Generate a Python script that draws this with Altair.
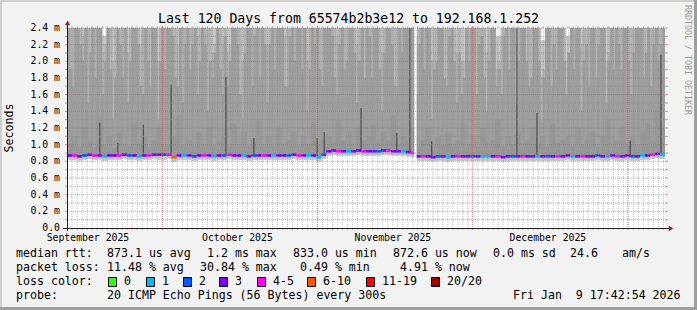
import altair as alt
import pandas as pd
import numpy as np

MONO = "DejaVu Sans Mono"

# ---------------- texts ----------------
title_text = "Last 120 Days from 65574b2b3e12 to 192.168.1.252"
y_axis_title = "Seconds"
watermark = "RRDTOOL / TOBI OETIKER"

y_tick_values = [0.0, 0.2, 0.4, 0.6, 0.8, 1.0, 1.2, 1.4, 1.6, 1.8, 2.0, 2.2, 2.4]
y_tick_labels = ["0.0", "0.2 m", "0.4 m", "0.6 m", "0.8 m", "1.0 m", "1.2 m",
                 "1.4 m", "1.6 m", "1.8 m", "2.0 m", "2.2 m", "2.4 m"]
y_minor_values = [0.1, 0.3, 0.5, 0.7, 0.9, 1.1, 1.3, 1.5, 1.7, 1.9, 2.1, 2.3]

month_labels = ["September 2025", "October 2025", "November 2025", "December 2025"]
month_label_days = [4.2, 34.2, 65.4, 96.5]
month_grid_days = [19.12, 50.31, 81.33, 112.51]

# ---------------- data: daily bins ----------------
day_bins = list(range(120))

median_rtt = [
    0.87, 0.87, 0.86, 0.87, 0.88, 0.87, 0.87, 0.86, 0.87, 0.87,
    0.87, 0.88, 0.87, 0.87, 0.86, 0.87, 0.87, 0.88, 0.88, 0.88,
    0.88, 0.85, 0.87, 0.87, 0.87, 0.86, 0.87, 0.87, 0.87, 0.86,
    0.87, 0.87, 0.88, 0.87, 0.87, 0.87, 0.86, 0.87, 0.87, 0.87,
    0.87, 0.87, 0.87, 0.87, 0.87, 0.88, 0.87, 0.87, 0.87, 0.87,
    0.85, 0.88, 0.92, 0.93, 0.92, 0.92, 0.92, 0.92, 0.93, 0.92,
    0.92, 0.92, 0.92, 0.93, 0.93, 0.92, 0.92, 0.92, 0.91, 0.90,
    0.86, 0.86, 0.86, 0.85, 0.86, 0.86, 0.85, 0.86, 0.86, 0.86,
    0.86, 0.86, 0.86, 0.86, 0.86, 0.86, 0.86, 0.85, 0.86, 0.86,
    0.86, 0.86, 0.86, 0.86, 0.86, 0.86, 0.86, 0.86, 0.86, 0.86,
    0.87, 0.86, 0.86, 0.86, 0.86, 0.86, 0.87, 0.86, 0.86, 0.87,
    0.86, 0.86, 0.87, 0.86, 0.86, 0.87, 0.87, 0.88, 0.89, 0.88,
]

min_rtt = [
    0.82, 0.82, 0.81, 0.82, 0.83, 0.82, 0.82, 0.81, 0.82, 0.82,
    0.82, 0.83, 0.82, 0.82, 0.81, 0.82, 0.82, 0.83, 0.82, 0.82,
    0.83, 0.80, 0.82, 0.82, 0.82, 0.81, 0.82, 0.82, 0.82, 0.81,
    0.82, 0.82, 0.83, 0.82, 0.82, 0.82, 0.81, 0.82, 0.82, 0.82,
    0.82, 0.82, 0.82, 0.82, 0.82, 0.83, 0.82, 0.82, 0.82, 0.82,
    0.80, 0.83, 0.87, 0.88, 0.87, 0.87, 0.87, 0.87, 0.88, 0.87,
    0.87, 0.87, 0.87, 0.88, 0.88, 0.87, 0.87, 0.87, 0.86, 0.85,
    0.81, 0.81, 0.81, 0.80, 0.81, 0.81, 0.80, 0.81, 0.81, 0.81,
    0.81, 0.81, 0.81, 0.81, 0.81, 0.81, 0.81, 0.80, 0.81, 0.81,
    0.81, 0.81, 0.81, 0.81, 0.81, 0.81, 0.81, 0.81, 0.81, 0.81,
    0.82, 0.81, 0.81, 0.81, 0.81, 0.81, 0.82, 0.81, 0.81, 0.82,
    0.81, 0.81, 0.82, 0.81, 0.81, 0.82, 0.82, 0.83, 0.84, 0.83,
]

# outermost (lightest) smoke band top
smoke_outer = [
    2.6, 2.6, 2.6, 2.6, 2.6, 2.6, 2.6, 2.3, 2.6, 2.6,
    2.6, 2.6, 2.6, 2.6, 2.6, 2.6, 2.6, 2.6, 2.6, 2.6,
    2.6, 2.6, 2.6, 2.6, 2.6, 2.6, 2.6, 2.6, 2.6, 2.6,
    2.6, 2.6, 2.6, 2.6, 2.6, 2.6, 2.6, 2.6, 2.6, 2.6,
    2.6, 2.6, 2.6, 2.6, 2.6, 2.6, 2.6, 2.6, 2.6, 2.6,
    2.6, 2.6, 2.6, 2.6, 2.6, 2.6, 2.6, 2.6, 2.6, 2.6,
    2.6, 2.6, 2.6, 2.6, 2.6, 2.6, 2.6, 2.6, 2.6, 2.6,
    2.6, 2.6, 2.6, 2.6, 2.6, 2.6, 2.6, 2.6, 2.6, 2.6,
    2.6, 2.6, 2.6, 2.6, 2.6, 2.6, 2.3, 2.6, 2.6, 2.6,
    2.6, 2.6, 2.6, 2.6, 2.6, 2.25, 2.6, 2.6, 2.6, 2.6,
    2.3, 2.6, 2.6, 2.6, 2.6, 2.6, 2.6, 2.6, 2.6, 2.6,
    2.6, 2.6, 2.6, 2.6, 2.6, 2.6, 2.6, 2.6, 2.6, 2.6,
]

# darkest band just above the median
smoke_inner = [
    1.00, 1.10, 0.98, 1.20, 1.05, 0.97, 1.30, 1.00, 1.10, 0.96,
    1.15, 1.00, 0.98, 1.25, 1.02, 1.10, 0.97, 1.05, 1.20, 1.00,
    0.98, 1.10, 1.35, 1.00, 1.05, 0.97, 1.15, 1.00, 1.20, 0.99,
    1.05, 1.10, 0.97, 1.25, 1.00, 1.15, 0.98, 1.05, 1.30, 1.00,
    1.10, 0.97, 1.20, 1.00, 1.05, 1.15, 0.98, 1.10, 1.00, 1.25,
    1.00, 1.05, 1.10, 1.02, 1.30, 1.05, 1.15, 1.00, 1.20, 1.05,
    1.10, 1.25, 1.02, 1.15, 1.05, 1.35, 1.00, 1.10, 1.05, 1.20,
    0.98, 1.05, 1.20, 0.97, 1.10, 1.00, 1.15, 0.98, 1.05, 1.25,
    1.00, 1.10, 0.97, 1.20, 1.02, 1.05, 1.30, 0.98, 1.10, 1.00,
    1.15, 0.97, 1.05, 1.20, 1.00, 1.10, 0.98, 1.25, 1.02, 1.05,
    1.10, 0.98, 1.20, 1.00, 1.05, 1.15, 0.97, 1.10, 1.30, 1.00,
    1.05, 1.20, 0.98, 1.10, 1.00, 1.15, 1.25, 1.05, 1.40, 1.20,
]

loss_bucket = [
    "3", "4-5", "3", "2", "3", "4-5", "3", "1", "3", "3",
    "4-5", "3", "2", "3", "1", "3", "4-5", "3", "3", "2",
    "4-5", "6-10", "3", "1", "3", "2", "3", "4-5", "3", "1",
    "3", "2", "4-5", "3", "3", "1", "3", "2", "3", "4-5",
    "3", "1", "3", "3", "2", "3", "4-5", "3", "1", "3",
    "1", "2", "3", "3", "4-5", "3", "1", "3", "3", "4-5",
    "3", "3", "2", "3", "4-5", "3", "3", "1", "3", "4-5",
    "3", "4-5", "3", "3", "2", "3", "1", "3", "4-5", "3",
    "3", "2", "3", "1", "1", "3", "4-5", "3", "3", "2",
    "3", "4-5", "3", "3", "1", "3", "2", "3", "4-5", "3",
    "3", "1", "3", "4-5", "3", "3", "2", "3", "1", "3",
    "4-5", "3", "3", "2", "3", "1", "3", "4-5", "3", "1",
]

# ---------------- data: half-day bins (upper smoke bands) ----------------
half_day_bins = [i * 0.5 for i in range(240)]

smoke_upper = [
    2.6, 2.6, 2.6, 2.6, 2.6, 2.6, 2.3, 2.6, 2.6, 2.6, 2.6, 2.6, 2.6, 2.6, 2.1, 2.2, 2.6, 2.6, 2.0, 2.6,
    2.6, 2.6, 2.6, 2.6, 2.1, 2.6, 2.6, 2.6, 2.6, 2.2, 2.6, 2.6, 2.6, 2.4, 2.6, 2.6, 2.0, 2.6, 2.6, 2.6,
    2.6, 2.6, 2.6, 2.6, 2.2, 2.6, 2.6, 2.6, 2.6, 2.6, 2.6, 2.6, 2.3, 2.6, 2.6, 2.6, 2.6, 2.6, 2.1, 2.2,
    2.6, 2.6, 2.2, 2.6, 2.1, 2.2, 2.6, 2.6, 2.6, 2.6, 2.0, 2.6, 2.6, 2.6, 2.6, 2.6, 2.6, 2.6, 2.6, 2.6,
    2.2, 2.6, 2.6, 2.6, 2.6, 2.6, 2.6, 2.3, 2.6, 2.6, 2.6, 2.6, 2.6, 2.6, 2.6, 2.6, 2.0, 2.6, 2.6, 2.6,
    2.6, 2.6, 2.6, 2.6, 2.6, 2.6, 2.6, 2.6, 2.3, 2.6, 2.6, 2.6, 2.6, 2.6, 2.6, 2.6, 2.2, 2.6, 2.6, 2.6,
    2.6, 2.6, 2.6, 2.6, 2.6, 2.6, 2.1, 2.6, 2.6, 2.6, 2.6, 2.4, 2.6, 2.6, 2.6, 2.6, 2.6, 2.6, 2.6, 2.6,
    2.3, 2.6, 2.6, 2.6, 2.6, 2.6, 2.0, 2.6, 2.6, 2.6, 2.6, 2.6, 2.6, 2.6, 2.6, 2.6, 2.1, 2.6, 2.0, 2.0,
    2.6, 2.6, 2.6, 2.6, 2.6, 2.6, 2.6, 2.6, 2.1, 2.6, 2.6, 2.6, 1.9, 2.0, 2.3, 2.6, 2.6, 2.6, 2.6, 2.6,
    2.2, 2.6, 2.6, 2.6, 2.6, 2.6, 2.6, 2.6, 2.6, 2.6, 1.8, 1.9, 2.6, 2.6, 2.6, 2.6, 2.4, 2.6, 2.6, 2.6,
    2.0, 2.1, 2.6, 2.6, 2.6, 2.6, 2.2, 2.6, 2.6, 2.6, 2.6, 2.6, 2.6, 2.6, 2.6, 2.6, 2.0, 2.1, 2.6, 2.6,
    2.6, 2.6, 2.6, 2.6, 2.6, 2.6, 2.4, 2.6, 2.6, 2.6, 2.6, 2.6, 2.6, 2.6, 2.6, 2.6, 2.6, 2.6, 2.6, 2.6,
]

smoke_mid = [
    2.6, 1.9, 1.7, 2.6, 2.6, 2.2, 2.0, 2.6, 1.5, 2.1, 2.6, 1.8, 2.6, 2.6, 1.6, 2.0, 2.6, 1.9, 1.3, 1.8,
    2.6, 2.2, 1.8, 2.6, 1.5, 2.0, 2.6, 2.6, 2.2, 1.7, 1.6, 2.6, 2.0, 1.7, 2.6, 2.4, 1.3, 2.0, 2.6, 1.9,
    2.6, 2.6, 2.3, 1.8, 1.7, 2.6, 1.5, 2.2, 2.6, 1.9, 2.2, 2.6, 1.6, 2.0, 2.6, 2.2, 1.4, 2.0, 1.8, 2.1,
    2.6, 1.9, 1.6, 2.3, 1.7, 2.0, 2.6, 2.6, 2.2, 1.6, 1.3, 2.1, 2.6, 2.6, 1.7, 2.3, 2.6, 1.8, 2.6, 2.2,
    1.5, 2.2, 2.6, 1.9, 2.4, 2.6, 2.6, 1.7, 1.7, 2.3, 2.6, 2.0, 2.6, 2.6, 1.9, 2.4, 1.4, 1.9, 2.6, 2.2,
    2.6, 1.9, 1.7, 2.4, 2.6, 2.6, 2.3, 1.8, 1.6, 2.2, 2.6, 1.9, 2.0, 2.6, 2.6, 2.1, 1.5, 2.0, 2.6, 1.8,
    2.6, 2.3, 1.8, 2.6, 2.6, 1.9, 1.4, 2.1, 2.6, 2.6, 2.2, 1.7, 1.7, 2.4, 2.1, 2.6, 2.6, 1.8, 2.6, 2.6,
    1.6, 2.2, 2.6, 1.9, 2.6, 2.6, 1.3, 1.9, 2.0, 2.6, 2.6, 1.8, 1.7, 2.3, 2.6, 2.0, 1.5, 2.1, 1.6, 1.8,
    2.6, 2.0, 2.6, 2.6, 1.6, 2.2, 2.3, 1.8, 1.4, 2.0, 2.6, 2.6, 1.7, 1.9, 1.6, 2.3, 2.6, 1.9, 2.6, 2.4,
    1.5, 2.0, 2.6, 2.6, 2.0, 1.7, 1.8, 2.4, 2.6, 2.0, 1.3, 1.8, 2.6, 2.6, 1.7, 2.2, 1.9, 2.6, 2.6, 2.0,
    1.6, 2.1, 2.6, 1.9, 2.6, 2.6, 1.4, 2.0, 2.2, 1.7, 2.6, 2.4, 1.8, 2.2, 2.6, 2.6, 1.5, 2.0, 2.6, 1.9,
    2.6, 2.2, 1.9, 2.6, 2.6, 2.0, 1.6, 2.1, 2.6, 2.6, 2.4, 1.8, 2.1, 2.6, 1.7, 2.2, 2.6, 2.0, 2.2, 2.6,
]
smoke_base = 0.95   # upper bands start here, hidden under the inner band

# single dark outlier spikes
spike_days = [6.6, 10.2, 15.3, 20.9, 31.9, 37.5, 50.2, 51.6, 59.0, 66.2, 68.8, 73.2, 90.3, 94.3, 113.0, 119.2]
spike_base = [0.88, 0.88, 0.88, 0.87, 0.88, 0.88, 0.86, 0.88, 0.93, 0.93, 0.92, 0.86, 0.86, 0.86, 0.87, 0.89]
spike_top = [1.26, 1.02, 1.24, 1.72, 1.81, 1.08, 1.08, 1.15, 1.44, 1.14, 2.6, 1.04, 2.6, 1.38, 1.05, 2.08]

# period without data
gap_start = [69.7]
gap_end = [70.15]

loss_categories = ["0", "1", "2", "3", "4-5", "6-10", "11-19", "20/20"]
loss_colors = ["#26ff00", "#00b8ff", "#0059ff", "#7a00ff", "#ff00ff", "#ff5500", "#ff0000", "#a00000"]

NB = "\u00a0"
legend_row1 = [("median rtt:", 16), ("873.1 us avg", 107), ("1.2 ms max", 207), ("833.0 us min", 293),
               ("872.6 us now", 393), ("0.0 ms sd", 493), ("24.6", 570), ("am/s", 622)]
legend_row2 = [("packet loss:", 16), ("11.48 % avg", 107), ("30.84 % max", 200), ("0.49 % min", 300),
               ("4.91 % now", 400)]
legend_row4 = [("probe:", 16), ("20 ICMP Echo Pings (56 Bytes) every 300s", 107),
               ("Fri Jan" + NB + " 9 17:42:54 2026", 513)]
loss_box_left = [108, 146, 183, 219, 257, 307, 366, 431]

# ---------------- chart ----------------
OX, OY = 67, 28          # plot origin in the page
W, H = 598, 200

xs = alt.Scale(domain=[0, 120], nice=False, zero=False)
ys = alt.Scale(domain=[0, 2.4], nice=False, zero=False)

df = pd.DataFrame({
    "d": day_bins, "med": median_rtt, "lo": min_rtt, "h1": smoke_outer,
    "h4": smoke_inner, "loss": loss_bucket,
})
base = alt.Chart(df).transform_calculate(d2="datum.d + 1")

hdf = pd.DataFrame({"d": half_day_bins, "h2": smoke_upper, "h3": smoke_mid})
hbase = alt.Chart(hdf).transform_calculate(d2="datum.d + 0.5", b=str(smoke_base))


def band(src, top, bottom, color):
    return src.mark_rect(color=color, stroke=color, strokeWidth=0.5, clip=True).encode(
        x=alt.X("d:Q", scale=xs, axis=None), x2="d2:Q",
        y=alt.Y(f"{bottom}:Q", scale=ys, axis=None), y2=f"{top}:Q")


smoke1 = band(base, "h1", "lo", "#c4c4c4")
smoke2 = band(hbase, "h2", "b", "#b1b1b1")
smoke3 = band(hbase, "h3", "b", "#9e9e9e")
smoke4 = band(base, "h4", "med", "#979797")

spikes = alt.Chart(pd.DataFrame({"sd": spike_days, "sb": spike_base, "st": spike_top})).mark_rule(
    color="#3a3a3a", strokeWidth=1, clip=True).encode(
    x=alt.X("sd:Q", scale=xs, axis=None),
    y=alt.Y("sb:Q", scale=ys, axis=None), y2="st:Q")

median = base.transform_calculate(mlo="datum.med - 0.016", mhi="datum.med + 0.016").mark_rect().encode(
    x=alt.X("d:Q", scale=xs, axis=None), x2="d2:Q",
    y=alt.Y("mlo:Q", scale=ys, axis=None), y2="mhi:Q",
    color=alt.Color("loss:N", scale=alt.Scale(domain=loss_categories, range=loss_colors), legend=None))

gap = alt.Chart(pd.DataFrame({"g0": gap_start, "g1": gap_end})).mark_rect(color="white").encode(
    x=alt.X("g0:Q", scale=xs, axis=None), x2="g1:Q", y=alt.value(0), y2=alt.value(H))

minor_v = [v for v in np.arange(month_grid_days[0] - 19 * 1.0055, 120, 1.0055) if 0.3 < v < 119.9]

GRID = "#8f8f8f"
MGRID = "#de4f4f"


def hgrid(vals, color, op):
    d = pd.DataFrame({"v": vals})
    dotted = alt.Chart(d).mark_rule(color=color, opacity=op, strokeDash=[1, 1], strokeWidth=1).encode(
        y=alt.Y("v:Q", scale=ys, axis=None), x=alt.value(0), x2=alt.value(W))
    stubL = alt.Chart(d).mark_rule(color=color, opacity=op, strokeWidth=1).encode(
        y=alt.Y("v:Q", scale=ys, axis=None), x=alt.value(-2), x2=alt.value(0))
    stubR = alt.Chart(d).mark_rule(color=color, opacity=op, strokeWidth=1).encode(
        y=alt.Y("v:Q", scale=ys, axis=None), x=alt.value(W), x2=alt.value(W + 3))
    return [dotted, stubL, stubR]


def vgrid(vals, color, op):
    d = pd.DataFrame({"v": vals})
    dotted = alt.Chart(d).mark_rule(color=color, opacity=op, strokeDash=[1, 1], strokeWidth=1).encode(
        x=alt.X("v:Q", scale=xs, axis=None), y=alt.value(0), y2=alt.value(H))
    stubB = alt.Chart(d).mark_rule(color=color, opacity=op, strokeWidth=1).encode(
        x=alt.X("v:Q", scale=xs, axis=None), y=alt.value(H), y2=alt.value(H + 2))
    stubT = alt.Chart(d).mark_rule(color=color, opacity=op, strokeWidth=1).encode(
        x=alt.X("v:Q", scale=xs, axis=None), y=alt.value(-2), y2=alt.value(0))
    return [dotted, stubB, stubT]


grids = (vgrid(minor_v, GRID, 0.55) + hgrid(y_minor_values, GRID, 0.75)
         + vgrid(month_grid_days, MGRID, 0.6) + hgrid(y_tick_values[1:], MGRID, 0.6))

one = pd.DataFrame({"a": [0]})

x_axis_line = alt.Chart(one).mark_rule(color="#1f1f1f", strokeWidth=1).encode(
    x=alt.value(-4), x2=alt.value(603), y=alt.value(H + 0.5))
y_axis_line = alt.Chart(one).mark_rule(color="#1f1f1f", strokeWidth=1).encode(
    x=alt.value(0.5), y=alt.value(H + 3), y2=alt.value(-7))
arrow_up = alt.Chart(one).mark_point(shape="triangle-up", filled=True, size=28, color="#801f1f", opacity=1).encode(
    x=alt.value(0.5), y=alt.value(-5))
arrow_right = alt.Chart(one).mark_point(shape="triangle-right", filled=True, size=28, color="#801f1f", opacity=1).encode(
    x=alt.value(604), y=alt.value(H + 0.5))

ytext = alt.Chart(pd.DataFrame({"v": y_tick_values, "lab": y_tick_labels})).mark_text(
    align="right", baseline="middle", font=MONO, fontSize=9.8, color="black").encode(
    y=alt.Y("v:Q", scale=ys, axis=None), x=alt.value(60 - OX), text="lab:N")

mtext = alt.Chart(pd.DataFrame({"v": month_label_days, "lab": month_labels})).mark_text(
    align="center", baseline="middle", font=MONO, fontSize=9.8, color="black").encode(
    x=alt.X("v:Q", scale=xs, axis=None), y=alt.value(238 - OY), text="lab:N")


def label(s, x, y, size=11.6, align="left", angle=None, color="black"):
    kw = dict(text=s, align=align, baseline="middle", font=MONO, fontSize=size, color=color)
    if angle is not None:
        kw["angle"] = angle
    return alt.Chart(one).mark_text(**kw).encode(x=alt.value(x - OX), y=alt.value(y - OY))


texts = [label(title_text, 348.5, 19, size=13.2, align="center"),
         label(y_axis_title, 10, 128, size=11.6, align="center", angle=270),
         label(watermark, 687, 60, size=8.3, align="center", angle=90, color="#9a9a9a")]
for s, x in legend_row1:
    texts.append(label(s, x, 254))
for s, x in legend_row2:
    texts.append(label(s, x, 268))
texts.append(label("loss color:", 16, 282))
for s, x in legend_row4:
    texts.append(label(s, x, 296))

boxes = []
for cat, col, bx in zip(loss_categories, loss_colors, loss_box_left):
    boxes.append(alt.Chart(one).mark_rect(fill=col, stroke="black", strokeWidth=1).encode(
        x=alt.value(bx - OX + 0.5), x2=alt.value(bx - OX + 8.5),
        y=alt.value(277.5 - OY), y2=alt.value(286.5 - OY)))
    texts.append(label(cat, bx + 16, 282))

# frame shading
frame = [
    alt.Chart(one).mark_rect(color="#cfcfcf").encode(x=alt.value(-OX), x2=alt.value(697 - OX), y=alt.value(-OY), y2=alt.value(2 - OY)),
    alt.Chart(one).mark_rect(color="#cfcfcf").encode(x=alt.value(-OX), x2=alt.value(2 - OX), y=alt.value(-OY), y2=alt.value(310 - OY)),
    alt.Chart(one).mark_rect(color="#9e9e9e").encode(x=alt.value(694 - OX), x2=alt.value(697 - OX), y=alt.value(-OY), y2=alt.value(310 - OY)),
    alt.Chart(one).mark_rect(color="#9e9e9e").encode(x=alt.value(-OX), x2=alt.value(697 - OX), y=alt.value(307 - OY), y2=alt.value(310 - OY)),
]

chart = alt.layer(
    smoke1, smoke2, smoke3, smoke4, spikes, median, gap, *grids,
    x_axis_line, y_axis_line, arrow_up, arrow_right, ytext, mtext, *texts, *boxes, *frame
).properties(
    width=W, height=H, autosize="none",
    padding={"left": OX, "top": OY, "right": 697 - OX - W, "bottom": 310 - OY - H},
    background="#f2f2f2",
).configure_view(fill="white", stroke=None)

chart.save("out.html", embed_options={"renderer": "svg", "actions": False})
